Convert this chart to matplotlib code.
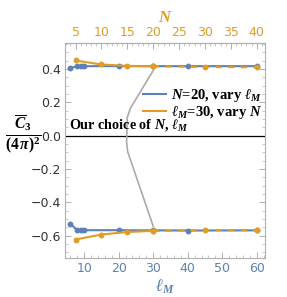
import matplotlib
matplotlib.use("Agg")
import matplotlib.pyplot as plt
from matplotlib.ticker import MultipleLocator, FixedLocator
from matplotlib.lines import Line2D

plt.rcParams['mathtext.fontset'] = 'custom'
plt.rcParams['mathtext.rm'] = 'Liberation Serif:bold'
plt.rcParams['mathtext.it'] = 'Liberation Serif:italic:bold'
plt.rcParams['mathtext.bf'] = 'Liberation Serif:bold'

BLUE = '#5E81B5'
ORANGE = '#E19C24'

# N=20, vary l_M
lM_blue = [6, 8, 9, 10, 20, 30, 40, 60]
top_blue = [0.406, 0.418, 0.418, 0.418, 0.418, 0.418, 0.418, 0.418]
bot_blue = [-0.529, -0.567, -0.567, -0.567, -0.567, -0.568, -0.569, -0.568]

# l_M=30, vary N
N_orange = [5, 10, 15, 20, 30, 40]
top_orange = [0.452, 0.428, 0.420, 0.417, 0.413, 0.411]
bot_orange = [-0.623, -0.593, -0.578, -0.571, -0.567, -0.567]

# tick labels
N_ticks = [5, 10, 15, 20, 25, 30, 35, 40]

# annotation pointer path (l_M, value)
ann_x = [30.0, 23.4, 22.5, 22.3, 22.6, 30.0]
ann_y = [0.392, 0.165, 0.110, -0.035, -0.095, -0.543]

ratio = 1.5  # l_M = 1.5 N
lM_orange = [n * ratio for n in N_orange]

SERIF = dict(family='Liberation Serif', weight='bold')

fig = plt.figure(figsize=(2.87, 2.97), dpi=100)
ax = fig.add_axes([0.2265, 0.1313, 0.697, 0.7239])
ax.set_xlim(4.46, 62.4)
ax.set_ylim(-0.734, 0.557)

ax.axhline(0, color='black', lw=0.9, zorder=2)
ax.plot(ann_x, ann_y, color='#AAAAAA', lw=1.2, zorder=2)

for yb in (top_blue, bot_blue):
    ax.plot(lM_blue, yb, color=BLUE, lw=1.5, marker='o', ms=3.2, zorder=3)

k = N_orange.index(20)
for yo in (top_orange, bot_orange):
    ax.plot(lM_orange[:k + 1], yo[:k + 1], color=ORANGE, lw=1.5, marker='o', ms=3.2, zorder=4)
    ax.plot(lM_orange[k:], yo[k:], color=ORANGE, lw=1.5, ls=(0, (3, 3)), marker='o', ms=3.2, zorder=4)

handles = [Line2D([0], [0], color=BLUE, lw=1.5), Line2D([0], [0], color=ORANGE, lw=1.5)]
leg = ax.legend(handles, [r'$N$=20, vary $\ell_M$', r'$\ell_M$=30, vary $N$'],
                loc='upper right', bbox_to_anchor=(1.012, 0.823), frameon=False,
                prop=dict(family='Liberation Serif', weight='bold', size=10.5),
                handlelength=1.6, handletextpad=0.3, labelspacing=0.0,
                borderaxespad=0.0)

ax.text(5.5, 0.018, r'Our choice of $N$, $\ell_M$',
        fontsize=10.2, ha='left', va='bottom', **SERIF)

for s in ax.spines.values():
    s.set_color('#B0B0B0')
    s.set_linewidth(0.8)

ax.xaxis.set_major_locator(MultipleLocator(10))
ax.xaxis.set_minor_locator(MultipleLocator(2))
ax.yaxis.set_major_locator(MultipleLocator(0.2))
ax.yaxis.set_minor_locator(MultipleLocator(0.05))
ax.tick_params(which='both', direction='in', color='#B0B0B0', right=True)
ax.tick_params(which='major', length=4, width=0.7)
ax.tick_params(which='minor', length=2, width=0.5)
ax.tick_params(axis='x', labelcolor=BLUE, labelsize=9, pad=3)
ax.tick_params(axis='y', labelcolor='#333333', labelsize=9, pad=3)
ax.yaxis.set_major_formatter(matplotlib.ticker.FuncFormatter(
    lambda v, p: ('\u2212' if v < -1e-9 else '') + f'{abs(v):.1f}'))

sec = ax.secondary_xaxis('top', functions=(lambda x: x / ratio, lambda n: n * ratio))
sec.xaxis.set_major_locator(FixedLocator(N_ticks))
sec.xaxis.set_minor_locator(MultipleLocator(1))
sec.tick_params(which='both', direction='in', color='#B0B0B0', labelcolor=ORANGE, labelsize=9, pad=3)
sec.tick_params(which='major', length=4, width=0.7)
sec.tick_params(which='minor', length=2, width=0.5)
sec.spines['top'].set_color('#B0B0B0')
sec.set_xlabel(r'$N$', color=ORANGE, fontsize=12, labelpad=3)

ax.set_xlabel(r'$\ell_M$', color=BLUE, fontsize=12, labelpad=2)
fig.text(0.082, 0.545, r'$\frac{\overline{C}_3}{(4\,\pi)^2}$', fontsize=16,
         ha='center', va='center')

fig.savefig('out.png', dpi=100)
